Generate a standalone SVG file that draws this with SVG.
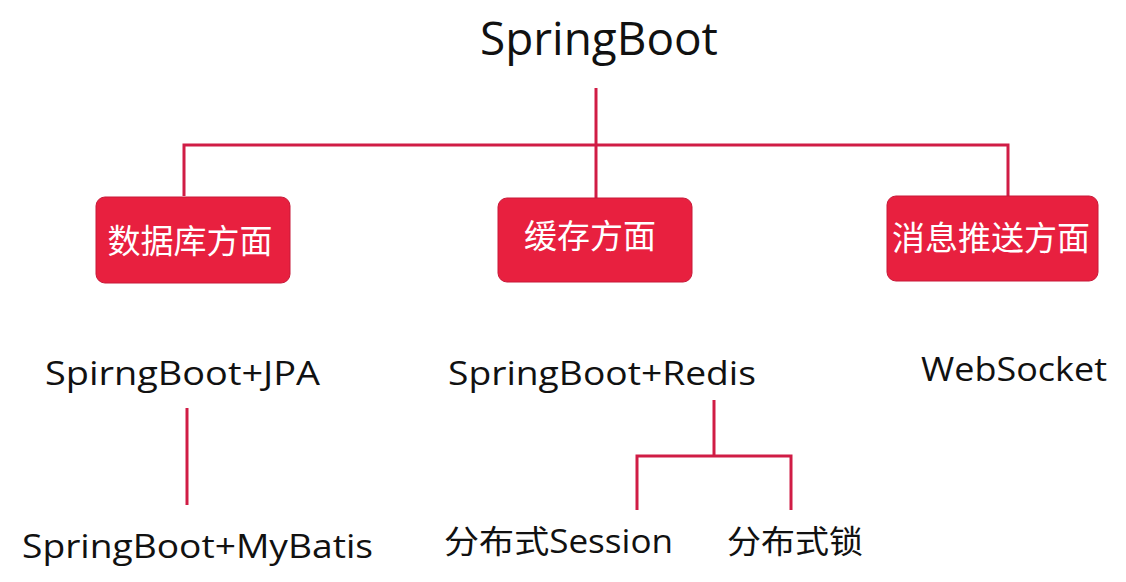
<svg xmlns="http://www.w3.org/2000/svg" width="1126" height="582" viewBox="0 0 1126 582">
<style>
.t{font-family:"Open Sans","Noto Sans CJK SC",sans-serif;fill:#111;}
.b{fill:#E8203F;stroke:#c81838;stroke-width:1;}
.bt{font-family:"Noto Sans CJK SC",sans-serif;fill:#fff;font-size:33px;text-anchor:middle;}
.c{fill:none;stroke:#D01C45;stroke-width:3;}
</style>
<rect width="1126" height="582" fill="#fff"/>
<g id="connectors">
<polyline class="c" points="596,88 596,145"/>
<polyline class="c" points="184,196 184,145 1008,145 1008,196"/>
<polyline class="c" points="596,145 596,198"/>
<polyline class="c" points="187,408 187,505"/>
<polyline class="c" points="714,400 714,456"/>
<polyline class="c" points="637,510 637,456 791,456 791,510"/>
</g>
<g id="root"><text class="t" x="480" y="55" font-size="45" textLength="238" lengthAdjust="spacingAndGlyphs">SpringBoot</text></g>
<g id="db"><rect class="b" x="96" y="197" width="194" height="86" rx="9"/><text class="bt" x="190" y="253">数据库方面</text></g>
<g id="cache"><rect class="b" x="498" y="198" width="194" height="84" rx="9"/><text class="bt" x="590" y="248">缓存方面</text></g>
<g id="msg"><rect class="b" x="887" y="196" width="211" height="85" rx="9"/><text class="bt" x="991" y="250">消息推送方面</text></g>
<g id="jpa"><text class="t" x="45" y="385" font-size="32" textLength="275" lengthAdjust="spacingAndGlyphs">SpirngBoot+JPA</text></g>
<g id="redis"><text class="t" x="448" y="385" font-size="32" textLength="308" lengthAdjust="spacingAndGlyphs">SpringBoot+Redis</text></g>
<g id="ws"><text class="t" x="921" y="381" font-size="32" textLength="186" lengthAdjust="spacingAndGlyphs">WebSocket</text></g>
<g id="mybatis"><text class="t" x="22" y="558" font-size="32" textLength="351" lengthAdjust="spacingAndGlyphs">SpringBoot+MyBatis</text></g>
<g id="session"><text class="t" x="444" y="553" font-size="32" textLength="229" lengthAdjust="spacingAndGlyphs">分布式Session</text></g>
<g id="lock"><text class="t" x="727" y="553" font-size="32" textLength="136" lengthAdjust="spacingAndGlyphs">分布式锁</text></g>
</svg>
